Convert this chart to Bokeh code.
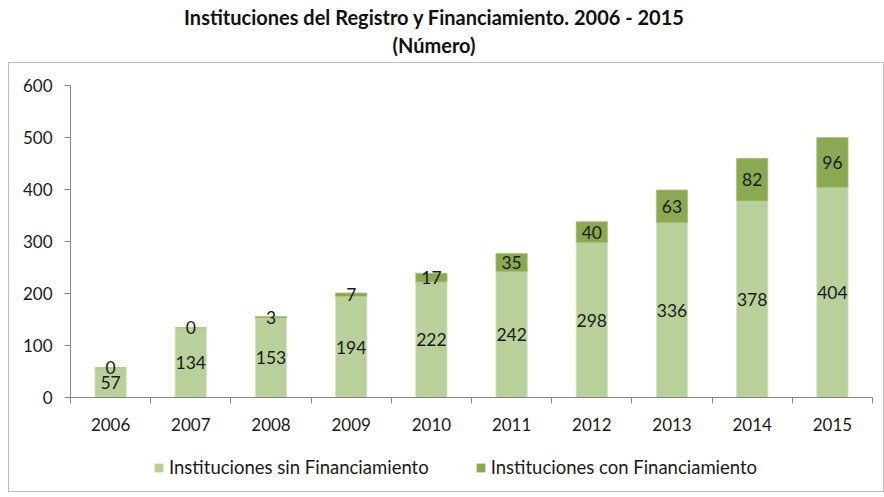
from bokeh.plotting import figure
from bokeh.models import (ColumnDataSource, Legend, LegendItem, FixedTicker, Range1d, LabelSet, Div)
from bokeh.layouts import column
from bokeh.core.properties import value
from bokeh.embed import file_html
from bokeh.resources import INLINE

years = ["2006", "2007", "2008", "2009", "2010", "2011", "2012", "2013", "2014", "2015"]
sin_fin = [57, 134, 153, 194, 222, 242, 298, 336, 378, 404]
con_fin = [0, 0, 3, 7, 17, 35, 40, 63, 82, 96]
y_ticks = [0, 100, 200, 300, 400, 500, 600]
series_names = ["Instituciones sin Financiamiento", "Instituciones con Financiamiento"]

LIGHT = "#bad09a"
DARK = "#8ba853"
FONT = "Lato"

idx = list(range(len(years)))
tops = [a + b for a, b in zip(sin_fin, con_fin)]
src = ColumnDataSource(dict(
    x=idx, sin=sin_fin, con=con_fin, top=tops,
    sin_mid=[a / 2 for a in sin_fin],
    con_mid=[a + b / 2 for a, b in zip(sin_fin, con_fin)],
    sin_txt=[str(v) for v in sin_fin], con_txt=[str(v) for v in con_fin],
))

title = Div(text=("<div style='width:852px;text-align:center;font-family:Lato;font-weight:bold;"
                  "font-size:20px;color:#111;line-height:28px;position:relative;top:-5px;'>"
                  "Instituciones del Registro y Financiamiento. 2006 - 2015<br>(Número)</div>"),
            width=876, height=54, margin=(0, 0, 0, 0))

p = figure(width=874, height=370, output_backend="svg", toolbar_location=None,
           x_range=Range1d(-0.5, len(years) - 0.5), y_range=Range1d(0, 600),
           min_border_left=61, min_border_right=11, min_border_top=22, min_border_bottom=34,
           margin=(0, 0, 0, 0))
p.outline_line_color = None
p.grid.grid_line_color = None

r1 = p.vbar(x="x", bottom=0, top="sin", width=0.39, source=src, fill_color=LIGHT,
            line_color="#d4e2bf", line_width=0.8)
r2 = p.vbar(x="x", bottom="sin", top="top", width=0.39, source=src, fill_color=DARK,
            line_color="#a9c27d", line_width=0.8)

for ycol, tcol in (("sin_mid", "sin_txt"), ("con_mid", "con_txt")):
    p.add_layout(LabelSet(x="x", y=ycol, text=tcol, source=src, text_align="center",
                          text_baseline="middle", text_font=value(FONT), text_font_size="17.5px",
                          text_color="#1a1a1a"))

p.xaxis.ticker = FixedTicker(ticks=idx, minor_ticks=[i - 0.5 for i in idx] + [len(years) - 0.5])
p.xaxis.major_label_overrides = {i: y for i, y in zip(idx, years)}
p.xaxis.major_tick_line_color = None
p.xaxis.minor_tick_in = 0
p.xaxis.minor_tick_out = 6
p.xaxis.minor_tick_line_color = "#868686"
p.xaxis.axis_line_color = "#868686"
p.xaxis.major_label_standoff = 14

p.yaxis.ticker = FixedTicker(ticks=y_ticks)
p.yaxis.minor_tick_line_color = None
p.yaxis.major_tick_in = 0
p.yaxis.major_tick_out = 6
p.yaxis.major_tick_line_color = "#868686"
p.yaxis.axis_line_color = "#868686"
p.yaxis.major_label_standoff = 12

for ax in (p.xaxis, p.yaxis):
    ax.major_label_text_font = FONT
    ax.major_label_text_font_size = "17px"
    ax.major_label_text_color = "#1a1a1a"

# legend strip: zero-height bars from the same source feed the legend swatches
lg = figure(width=874, height=58, output_backend="svg", toolbar_location=None,
            x_range=Range1d(-0.5, len(years) - 0.5), y_range=Range1d(0, 1),
            x_axis_type=None, y_axis_type=None, min_border=0, margin=(0, 0, 0, 0))
lg.outline_line_color = None
lg.grid.grid_line_color = None
l1 = lg.vbar(x="x", bottom=0, top=0, width=0.39, source=src, fill_color=LIGHT, line_color=None)
l2 = lg.vbar(x="x", bottom=0, top=0, width=0.39, source=src, fill_color=DARK, line_color=None)
legend = Legend(items=[LegendItem(label=series_names[0], renderers=[l1]),
                       LegendItem(label=series_names[1], renderers=[l2])],
                orientation="horizontal", location=(83, 13), border_line_color=None,
                label_text_font=FONT, label_text_font_size="18.5px", label_text_color="#1a1a1a",
                glyph_width=11, glyph_height=11, spacing=46, margin=0, padding=4,
                label_standoff=5, background_fill_alpha=0)
lg.add_layout(legend, "center")

box = column(p, lg, spacing=0, margin=(0, 0, 0, 0), styles={"border": "1px solid #bfbfbf"})
layout = column(title, box, spacing=0, margin=(8, 0, 0, 8))
open("out.html", "w").write(file_html(layout, INLINE))
